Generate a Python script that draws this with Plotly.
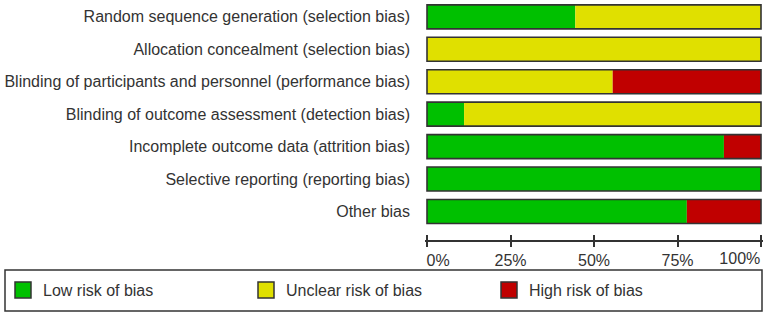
import plotly.graph_objects as go

# ---- data (percent of studies) ----
domains = [
    "Random sequence generation (selection bias)",
    "Allocation concealment (selection bias)",
    "Blinding of participants and personnel (performance bias)",
    "Blinding of outcome assessment (detection bias)",
    "Incomplete outcome data (attrition bias)",
    "Selective reporting (reporting bias)",
    "Other bias",
]
low_risk = [44.4, 0.0, 0.0, 11.1, 88.9, 100.0, 77.8]
unclear_risk = [55.6, 100.0, 55.6, 88.9, 0.0, 0.0, 0.0]
high_risk = [0.0, 0.0, 44.4, 0.0, 11.1, 0.0, 22.2]
tick_vals = [0, 25, 50, 75, 100]
tick_labels = ["0%", "25%", "50%", "75%", "100%"]

series = [
    ("Low risk of bias", low_risk, "#00c000"),
    ("Unclear risk of bias", unclear_risk, "#e0e000"),
    ("High risk of bias", high_risk, "#c00000"),
]

FONT = "Liberation Sans, Arial, sans-serif"
TXT = "#333333"
EDGE = "#333333"
fig = go.Figure()

base = [0.0] * len(domains)
for name, vals, color in series:
    fig.add_trace(go.Bar(
        y=domains, x=vals, base=list(base), orientation="h", name=name,
        marker=dict(color=color, line=dict(width=0)),
        showlegend=False, hoverinfo="skip",
    ))
    base = [b + v for b, v in zip(base, vals)]

# outline of each whole bar
fig.add_trace(go.Bar(
    y=domains, x=base, base=[0] * len(domains), orientation="h",
    marker=dict(color="rgba(0,0,0,0)", line=dict(color=EDGE, width=1.6)),
    showlegend=False, hoverinfo="skip",
))

# legend entries (large square swatches)
for name, vals, color in series:
    fig.add_trace(go.Scatter(
        x=[None], y=[None], mode="markers", name=name,
        marker=dict(symbol="square", size=16, color=color,
                    line=dict(color=EDGE, width=1.5)),
        hoverinfo="skip",
    ))

# tick labels: first one nudged right; last one drawn right-aligned on
# the overlay axis so it stays inside the frame like the original
pad = "\u00a0"
main_ticks = list(tick_labels)
main_ticks[0] = pad * 5 + main_ticks[0]
main_ticks[-1] = ""
end_ticks = [""] * (len(tick_labels) - 1) + [tick_labels[-1]]

W, H = 767, 315
ml, mr, mt, mb = 425, 4, 0, 75
pw, ph = W - ml - mr, H - mt - mb

def px_x(p):
    return (p - ml) / pw

def px_y(p):
    return (H - mb - p) / ph

n = len(domains)
fig.update_layout(
    width=W, height=H,
    margin=dict(l=ml, r=mr, t=mt, b=mb, autoexpand=False),
    paper_bgcolor="white", plot_bgcolor="white",
    barmode="overlay", bargap=0.26,
    font=dict(family=FONT, size=16, color=TXT),
    xaxis=dict(
        range=[-0.6, 100.6], tickvals=tick_vals, ticktext=main_ticks,
        showgrid=False, zeroline=False, showline=True, linecolor=EDGE,
        linewidth=1.5, ticks="outside", ticklen=5, tickwidth=1.5,
        tickcolor=EDGE, tickfont=dict(size=16, color=TXT),
        ticklabeloverflow="allow", automargin=False, fixedrange=True,
    ),
    xaxis2=dict(
        range=[-0.6, 100.6], tickvals=tick_vals, ticktext=end_ticks,
        showticklabels=True, ticklabelposition="outside left",
        ticklabelstandoff=7, tickfont=dict(size=16, color=TXT),
        overlaying="x", anchor="y", side="bottom", showgrid=False,
        zeroline=False, showline=False, ticks="inside", ticklen=5,
        tickwidth=1.5, tickcolor=EDGE, automargin=False,
    ),
    yaxis=dict(
        categoryorder="array", categoryarray=domains,
        range=[n - 1 + 0.88, -0.52], showgrid=False, zeroline=False,
        showline=False, ticks="", ticklabelstandoff=14, automargin=False,
        tickfont=dict(size=16, color=TXT),
    ),
    legend=dict(
        orientation="h", x=px_x(3), y=px_y(290), xanchor="left",
        yanchor="middle", entrywidth=198, entrywidthmode="pixels",
        font=dict(size=16, color=TXT), bgcolor="rgba(0,0,0,0)",
        traceorder="normal",
    ),
    shapes=[dict(
        type="rect", xref="paper", yref="paper",
        x0=px_x(5), x1=px_x(762), y0=px_y(311), y1=px_y(270),
        line=dict(color=EDGE, width=1.5), fillcolor="rgba(0,0,0,0)",
    )],
)
# dummy trace to activate xaxis2 (upward tick marks and the end label)
fig.add_trace(go.Scatter(x=[None], y=[None], xaxis="x2", showlegend=False,
                         hoverinfo="skip"))

fig.write_html("out.html")
